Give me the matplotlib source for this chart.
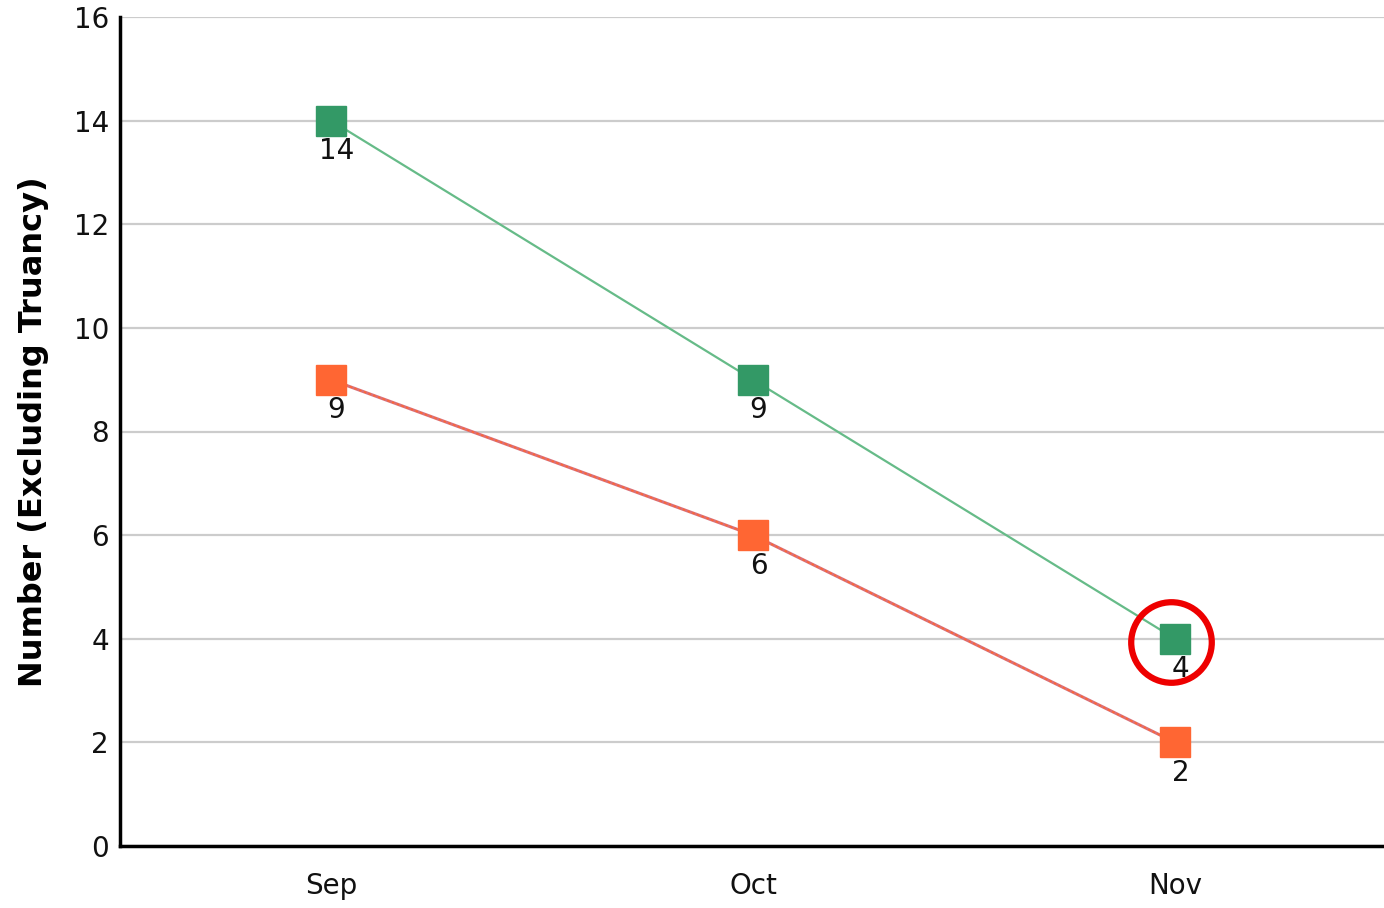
import matplotlib
matplotlib.use("Agg")
import matplotlib.pyplot as plt

months = ["Sep", "Oct", "Nov"]
series_green = [14, 9, 4]
series_orange = [9, 6, 2]
highlight_index = 2

fig = plt.figure(figsize=(13.84, 9.08), dpi=100)
ax = fig.add_axes([120/1384, 1 - 846/908, 1266/1384, (846-17)/908])

x = list(range(len(months)))
ax.plot(x, series_orange, color="#d8707a", lw=2.2, zorder=3)
ax.plot(x, series_orange, color="#ff6633", lw=1.2, zorder=3, dashes=(1.5, 1.5))
ax.plot(x, series_orange, marker="s", ms=22, color="#ff6633", lw=0, zorder=4)
ax.plot(x, series_green, color="#66bb88", lw=1.6, zorder=3)
ax.plot(x, series_green, marker="s", ms=22, color="#339966", lw=0, zorder=4)

for xi, v in zip(x, series_green):
    ax.annotate(str(v), (xi, v), xytext=(4, -22), textcoords="offset points",
                ha="center", va="center", fontsize=20, color="#111111", zorder=5)
for xi, v in zip(x, series_orange):
    ax.annotate(str(v), (xi, v), xytext=(4, -22), textcoords="offset points",
                ha="center", va="center", fontsize=20, color="#111111", zorder=5)

ax.plot([x[highlight_index] - 0.01], [series_green[highlight_index] - 0.06], marker="o", ms=58,
        mfc="none", mec="#ee0000", mew=4.5, lw=0, zorder=6, clip_on=False)

ax.set_xlim(-0.5, 2.5)
ax.set_ylim(0, 16)
ax.set_yticks(range(0, 17, 2))
ax.set_xticks(x)
ax.set_xticklabels(months)
ax.tick_params(axis="both", length=0, labelsize=20, colors="#111111")
ax.tick_params(axis="x", pad=19)
ax.tick_params(axis="y", pad=8)
ax.yaxis.grid(True, color="#cccccc", lw=1.6)
ax.set_axisbelow(True)
for s in ["top", "right"]:
    ax.spines[s].set_visible(False)
for s in ["left", "bottom"]:
    ax.spines[s].set_linewidth(2.5)
    ax.spines[s].set_color("black")
ax.set_ylabel("Number (Excluding Truancy)", fontsize=23, fontweight="bold", labelpad=18)

fig.savefig("out.png", dpi=100)
